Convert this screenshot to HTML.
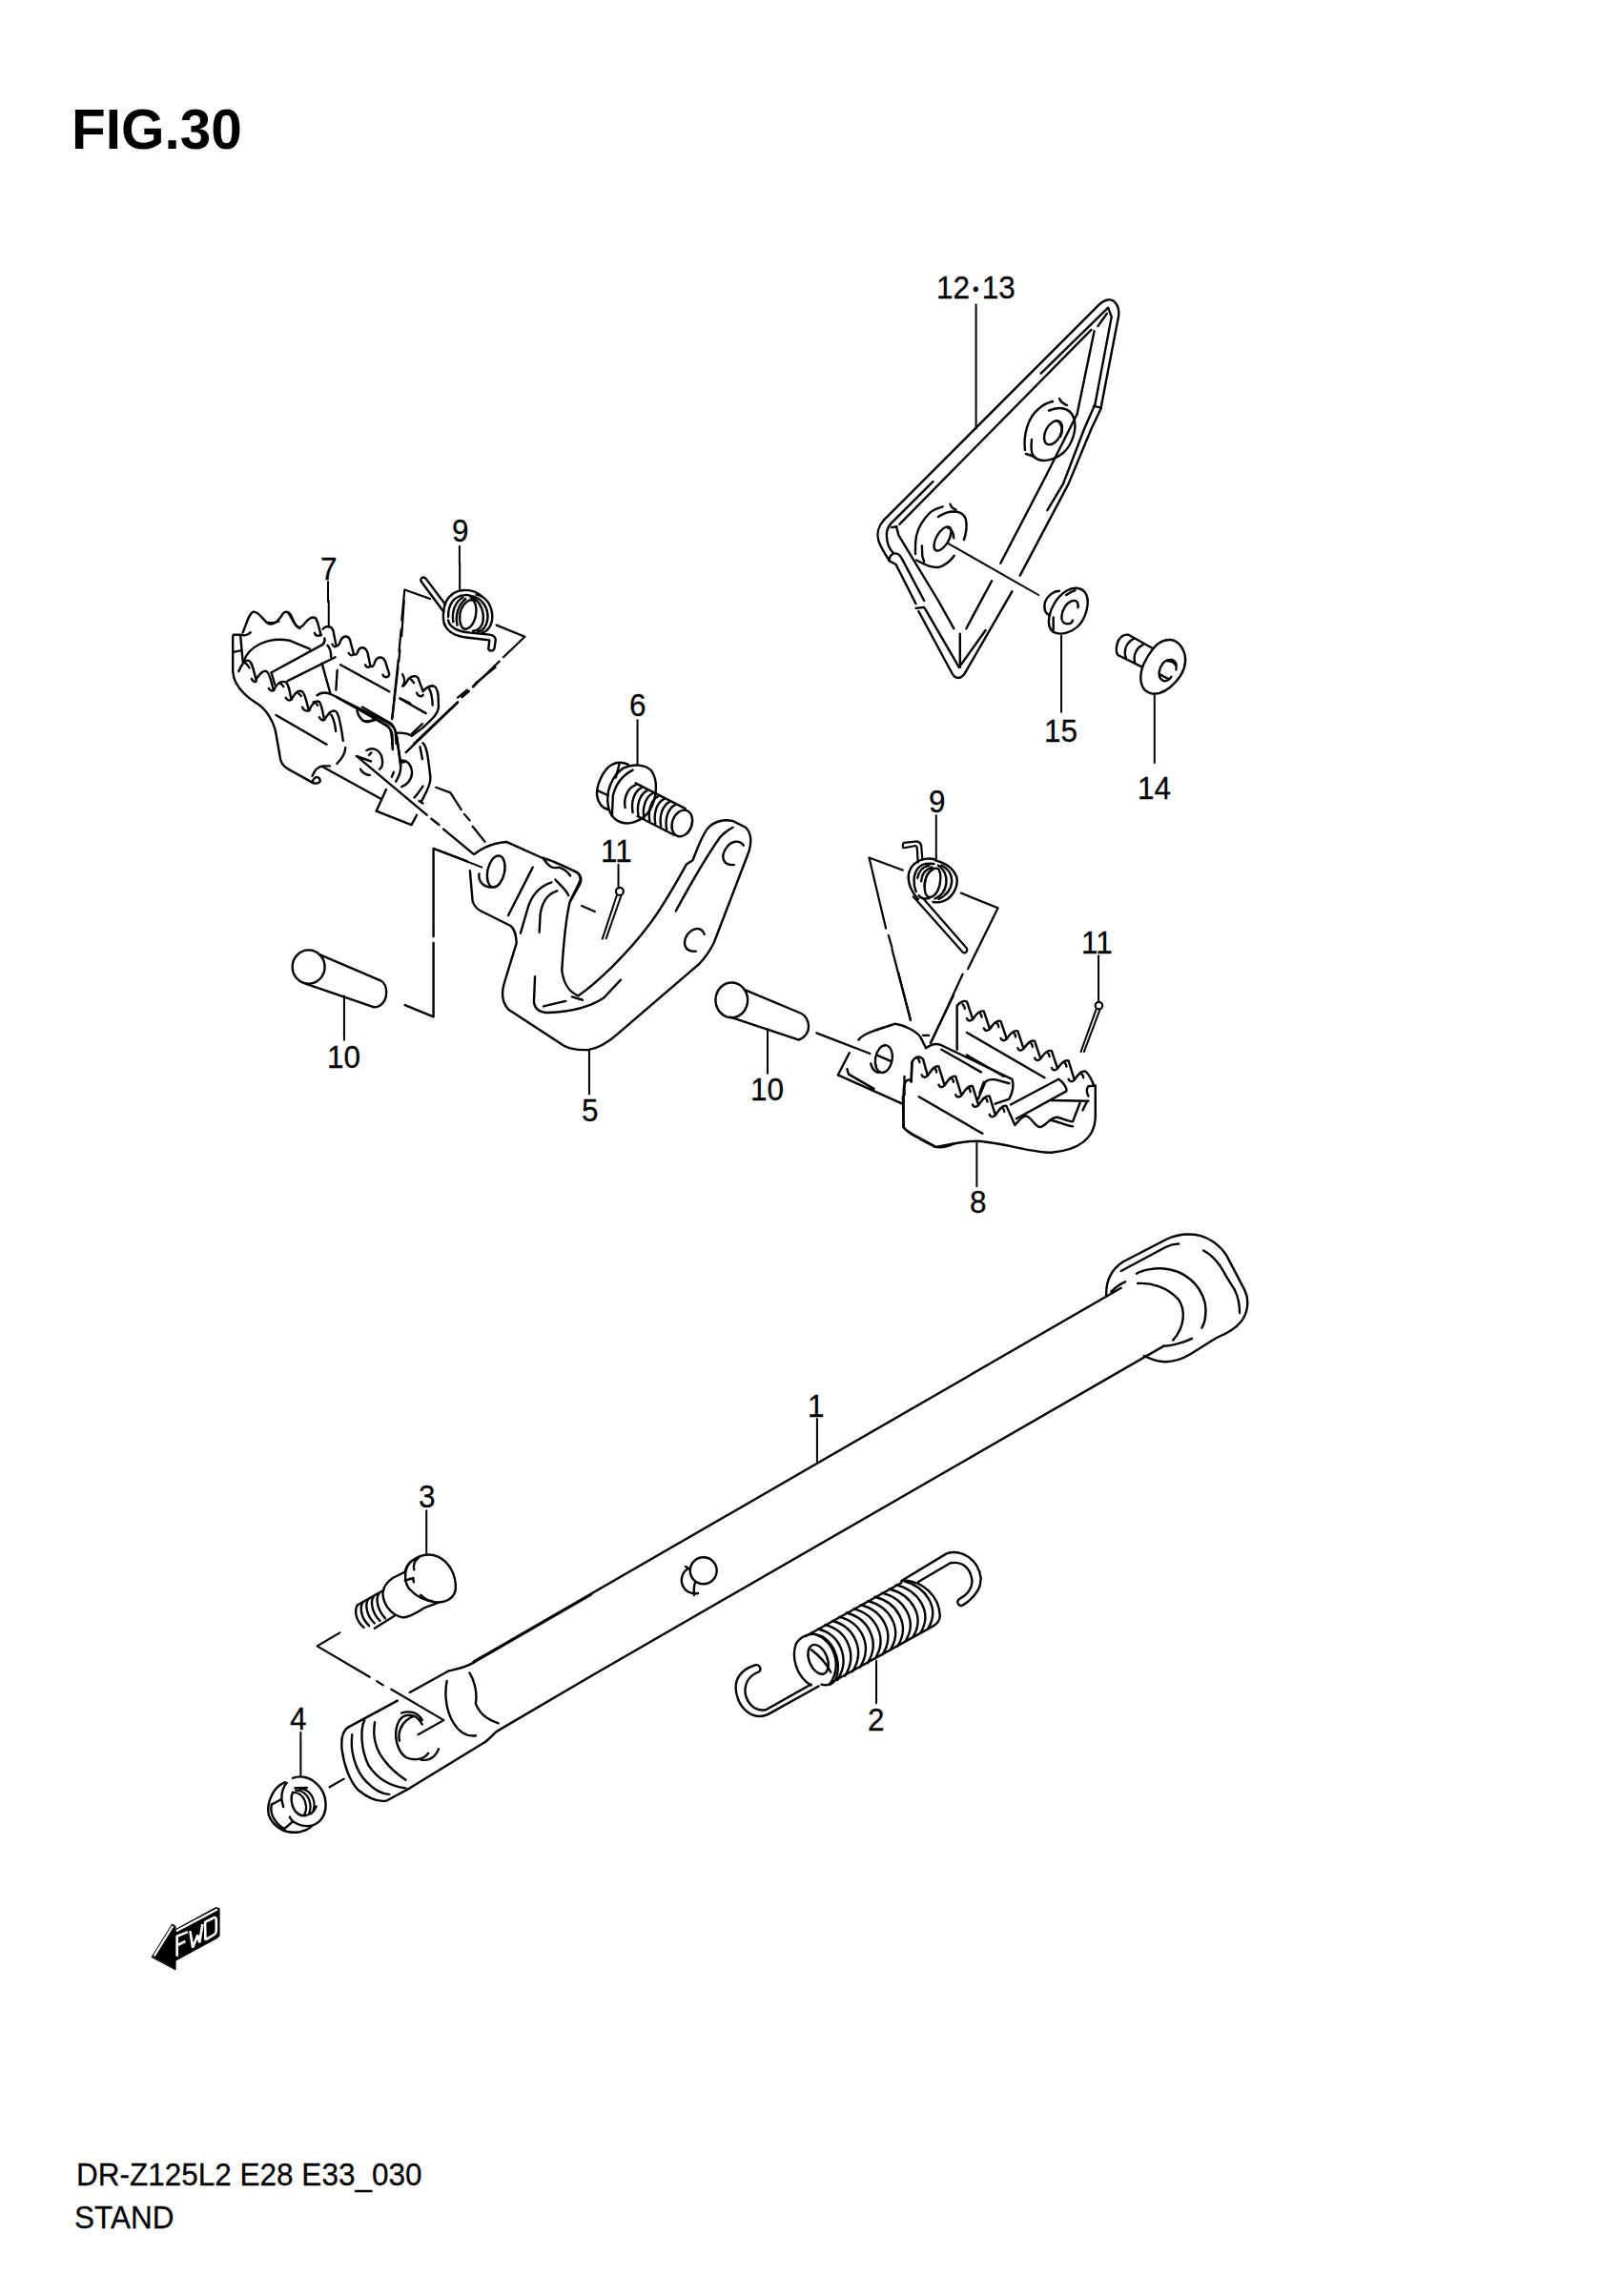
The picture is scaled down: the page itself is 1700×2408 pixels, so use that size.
<!DOCTYPE html>
<html><head><meta charset="utf-8">
<style>
html,body{margin:0;padding:0;background:#fff;}
body{width:1700px;height:2408px;position:relative;overflow:hidden;font-family:"Liberation Sans",sans-serif;color:#000;}
.t{position:absolute;white-space:nowrap;line-height:1;font-size:31.5px;transform:scaleY(1.07);transform-origin:0 0;-webkit-text-stroke:0.25px #000;}
svg{position:absolute;left:0;top:0;}
svg *{vector-effect:non-scaling-stroke;}
</style></head><body>
<div class="t" style="left:75px;top:107px;font-size:58.5px;font-weight:bold;transform:none;-webkit-text-stroke:0;">FIG.30</div>
<div class="t" style="left:80px;top:2264px;">DR-Z125L2 E28 E33_030</div>
<div class="t" style="left:78px;top:2309px;">STAND</div>
<div class="t" style="left:982px;top:285px;">12<span style="font-size:19px;vertical-align:3px;margin:0 3px">•</span>13</div>
<div class="t" style="left:1095px;top:750px;">15</div>
<div class="t" style="left:1193px;top:810px;">14</div>
<div class="t" style="left:474px;top:540px;">9</div>
<div class="t" style="left:336px;top:580px;">7</div>
<div class="t" style="left:660px;top:723px;">6</div>
<div class="t" style="left:630px;top:876px;">11</div>
<div class="t" style="left:610px;top:1148px;">5</div>
<div class="t" style="left:343px;top:1092px;">10</div>
<div class="t" style="left:974px;top:824px;">9</div>
<div class="t" style="left:1134px;top:972px;">11</div>
<div class="t" style="left:787px;top:1126px;">10</div>
<div class="t" style="left:1017px;top:1244px;">8</div>
<div class="t" style="left:847px;top:1458px;">1</div>
<div class="t" style="left:304px;top:1786px;">4</div>
<div class="t" style="left:439px;top:1553px;">3</div>
<div class="t" style="left:910px;top:1787px;">2</div>
<svg width="1700" height="2408" viewBox="0 0 1700 2408" fill="none" stroke="#000" stroke-width="2.4" stroke-linecap="round" stroke-linejoin="round">
<!-- b3.txt -->
<g transform="translate(360.0 1560.0) scale(0.086366)">
<path d="M1010,280 L1010,820" stroke-width="2"/>
<path d="M880,860 C950,815 1060,800 1150,840 C1280,900 1370,1050 1365,1230 C1350,1340 1260,1400 1130,1395 C1000,1380 880,1320 800,1230 C740,1150 740,1020 790,940 C810,910 840,880 880,860"/>
<path d="M750,1020 C780,920 830,880 920,850 M750,1130 L850,1100 L855,1150 M860,1000 C850,950 860,900 900,870 M940,1305 C970,1330 1000,1370 1080,1380"/>
<path d="M740,1030 L600,1100 C540,1140 490,1200 480,1280 C480,1400 560,1540 720,1580 C800,1580 900,1520 990,1460 L1150,1400"/>
<path d="M470,1260 L170,1430 M620,1560 L380,1710"/>
<path d="M175,1425 C130,1490 150,1620 250,1700 M240,1390 C195,1455 215,1590 315,1680 M305,1355 C260,1420 280,1555 380,1650 M370,1320 C325,1385 345,1520 445,1620 M435,1285 C390,1350 410,1485 510,1590"/>

</g>
<!-- b5.txt -->
<g transform="translate(460.0 880.0) scale(0.197409)">
<path d="M190,80 C240,40 300,20 360,15 L550,100 M550,100 C600,110 680,150 740,180 C760,200 760,220 750,240 L700,330"/>
<ellipse cx="305" cy="172" rx="45" ry="85" transform="rotate(12 305 172)"/>
<path d="M215,185 C210,225 240,262 290,255"/>
<path d="M0,60 L230,150" stroke-width="2"/>
<path d="M600,230 C540,250 490,300 470,380 L435,500 M630,275 C580,290 550,330 540,400 L535,495"/>
<path d="M500,150 L370,405"/>
<path d="M555,100 C580,140 600,160 640,150 C670,160 690,180 700,195 M620,215 C650,250 680,270 690,300"/>

<path d="M870,530 L948,295 M890,528 L970,300" stroke-width="2"/><circle cx="962" cy="278" r="20" stroke-width="2.2"/>
<path d="M955,135 L955,252" stroke-width="2"/>
<path d="M760,355 L830,385" stroke-width="2.2"/>
<path d="M800,1125 L800,1355" stroke-width="2"/>

</g>
<!-- b5full.txt -->
<g transform="translate(460.0 820.0) scale(0.222085)">
<path d="M148,420 L160,560 C165,585 180,600 200,610 L340,680 C360,695 365,720 368,760 L310,950 C298,990 298,1040 330,1075 L590,1245 C620,1262 660,1268 710,1265 C760,1255 800,1230 840,1195 L1230,860 C1260,830 1280,800 1300,760 L1465,330 C1480,280 1475,240 1450,215 L1390,185 C1350,175 1300,185 1270,220 C1240,260 1220,320 1200,370 L1170,390 C1120,480 1060,590 990,680 C900,800 760,940 660,1010 C610,990 590,950 582,890 C590,760 600,650 620,565 C640,520 660,490 670,460 C668,440 660,430 640,420"/>
<path d="M1120,610 C1180,500 1280,330 1330,260 C1350,240 1370,225 1390,215"/>
<path d="M1440,300 C1420,270 1380,280 1360,310 C1330,350 1340,395 1395,392 M1255,720 C1240,680 1200,690 1175,720 C1150,760 1160,805 1215,800"/>
<path d="M455,920 L450,1040 C455,1075 480,1090 520,1090 C640,1085 720,1060 780,1020 L860,935 M495,1060 L600,1035 M630,1015 L680,1030"/>

</g>
<!-- b6.txt -->
<g transform="translate(480.0 700.0) scale(0.197409)">
<path d="M955,280 L955,515" stroke-width="2"/>
<path d="M800,755 C770,750 745,720 740,680 C735,640 760,570 800,530 C830,505 870,500 905,515"/>
<path d="M745,655 L800,680 M860,508 L840,585"/>
<path d="M880,535 C930,510 1000,515 1030,550 C1065,600 1060,690 1020,760 C980,820 900,845 850,815 C800,785 790,720 800,660 C810,610 840,560 880,535"/>
<path d="M930,545 C880,570 840,620 825,680 L820,790"/>
<path d="M945,615 L1210,750 M955,790 L1150,890"/>
<ellipse cx="1192" cy="828" rx="52" ry="72" transform="rotate(20 1192 828)"/>
<path d="M945,625 C900,640 880,700 890,745 M975,640 C935,660 920,720 930,770 M1005,655 C965,675 950,735 960,785 M1035,670 C995,690 980,750 990,800 M1065,685 C1025,705 1010,765 1020,815 M1095,700 C1055,720 1040,780 1050,830 M1125,715 C1085,735 1070,795 1080,845 M1155,730 C1115,750 1100,810 1110,860"/>
<path d="M0,160 L50,120 M100,80 L200,0" stroke-width="2.2"/>




</g>
<!-- f7a.txt -->
<g transform="translate(230.0 630.0) scale(0.123381)">
<path d="M200,270 C230,200 250,110 290,95 C330,88 370,160 410,190 C450,215 500,180 540,110 C570,78 605,100 625,160 C650,230 685,245 720,200 C745,165 790,125 820,150 C840,180 850,250 865,295"/>
<path d="M810,275 C820,305 850,305 862,285 M190,290 C210,300 250,290 265,270 M420,185 C450,195 480,185 505,175 M590,110 C620,150 640,220 685,235"/>
<path d="M880,240 C905,215 950,205 968,255 L990,365 C998,392 1018,385 1030,340 C1050,300 1090,288 1110,330 L1140,445 C1150,470 1172,462 1182,420 C1200,390 1240,388 1260,440 L1282,545 C1292,572 1312,562 1322,520 C1342,470 1392,468 1412,520 L1445,625"/>
<path d="M960,370 C970,395 990,395 995,385 M1100,445 C1110,470 1130,470 1140,455 M1240,545 C1250,570 1275,570 1282,555 M1390,630 C1400,655 1425,655 1440,640 M920,380 C940,400 950,440 950,480"/>
<path d="M120,290 L180,290 M115,300 L115,600 C120,700 200,800 330,880 C400,930 460,1020 480,1120 L520,1350 C530,1400 560,1420 600,1440 L790,1545"/>
<path d="M790,1545 C800,1500 830,1490 850,1510 C870,1540 840,1560 800,1550 M790,1490 C810,1440 840,1410 880,1405 L940,1405"/>
<path d="M130,435 L180,425 M180,300 L200,520"/>
<path d="M165,600 C190,540 220,500 250,510 C280,520 292,600 312,668 C335,640 362,590 400,600 C430,610 442,700 462,762 C490,700 520,680 560,690 C590,700 600,780 612,842 C640,790 662,760 700,770 C730,780 742,870 762,935 C782,880 820,840 850,860 C870,880 882,960 892,1012 C922,970 950,920 990,940 C1020,960 1040,1100 1052,1190"/>
<path d="M275,665 C285,690 310,695 315,680 M420,745 C430,770 455,770 465,760 M565,825 C575,850 600,850 612,840 M705,905 C715,935 745,940 765,932 M850,990 C860,1015 885,1020 895,1010 M950,970 C970,1000 985,1060 990,1110 M220,530 C240,540 250,560 255,570 M510,700 C530,705 540,720 545,730 M660,780 C680,790 690,800 695,810 M800,860 C820,865 830,880 835,890"/>
<path d="M440,612 L880,372 C895,355 900,340 895,320 M580,682 L985,480 M445,620 L472,712"/>
<path d="M205,525 C240,390 420,300 600,340 L770,410"/>
<path d="M872,532 L942,782 M1002,592 L992,758"/>
<path d="M1030,545 L1445,772 M482,972 L912,1222 M1540,832 L1621,872"/>
<path d="M830,805 C870,770 920,780 960,800 L1440,1040 C1480,1060 1500,1100 1510,1160 L1540,1400"/>
<path d="M1000,822 L1430,1062 C1460,1080 1470,1150 1475,1260"/>
<path d="M1170,935 C1185,990 1210,1020 1250,1030 C1280,1030 1300,1020 1310,1010"/>
<path d="M1000,1385 C1040,1345 1070,1300 1072,1250 M1252,1272 C1300,1242 1362,1262 1382,1332 C1392,1382 1382,1420 1362,1432 M1272,1312 L1292,1292 M1200,1432 C1212,1462 1250,1482 1280,1482"/>


<path d="M930,0 L930,225" stroke-width="2"/>
<path d="M1570,0 L1550,300 M1535,420 L1525,520 M1520,560 L1470,1000" stroke-width="2.2"/>

</g>
<!-- f7b.txt -->
<g transform="translate(380.0 660.0) scale(0.074028)">
<path d="M570,640 C600,690 605,760 570,805 C600,815 625,740 660,695 C700,660 760,650 790,690 L860,880 C880,850 930,810 990,800 C1040,800 1070,870 1075,950 L1080,1110 C1070,1200 1000,1260 850,1400 L700,1510 C650,1480 600,1460 480,1470"/>
<path d="M770,900 C790,950 840,965 860,930 M940,830 C970,870 990,950 995,1075 M680,700 C700,720 720,740 730,760"/>
<path d="M530,980 L900,1190"/>
<path d="M550,0 L520,310 M510,430 L420,1270" stroke-width="2.2"/>
<path d="M0,1100 L400,1330 C440,1360 460,1400 470,1460 L480,1621 M0,1160 L350,1370 C390,1400 420,1450 425,1500 L420,1621"/>
<path d="M0,1290 C60,1320 120,1290 170,1290 M700,1480 L850,1340"/>
<path d="M730,1621 L1350,1030 M1410,960 L1500,880 M1570,810 L1621,750" stroke-width="2.4"/>

</g>
<!-- f7c.txt -->
<g transform="translate(400.0 720.0) scale(0.098705)">
<path d="M260,700 L810,170 M860,110 L930,50" stroke-width="2.4"/>
<path d="M160,520 L200,780 M110,520 L120,670"/>
<path d="M200,790 C260,770 320,820 325,920 C320,1000 260,1050 215,1065 M200,810 L250,800 M155,1010 C190,950 210,880 205,830"/>
<path d="M440,600 C490,640 500,800 520,960 C530,1050 460,1150 420,1230 M400,1215 L440,1240 M410,640 L435,770"/>
<path d="M350,1180 C380,1150 420,1090 440,1060"/>




<path d="M110,960 L130,910"/>

</g>
<!-- f8.txt -->
<g transform="translate(940.0 1040.0) scale(0.148057)">
<path d="M430,410 L430,100 C450,75 480,58 500,72 L542,195 C520,215 505,205 500,190 M542,195 C565,160 590,128 620,140 L662,265 C640,285 625,275 620,260 M662,265 C685,230 710,198 740,210 L782,335 C760,355 745,345 740,330 M782,335 C805,300 830,268 860,280 L902,405 C880,425 865,415 860,400 M902,405 C925,370 950,338 980,350 L1022,475 C1000,495 985,485 980,470 M1022,475 C1045,440 1070,408 1100,420 L1142,545 C1120,565 1105,555 1100,540 M1142,545 C1165,510 1190,478 1220,490 L1262,625 C1240,645 1225,635 1220,620 M1262,625 C1285,590 1310,555 1340,565 C1370,590 1390,640 1400,665"/>
<path d="M470,90 C480,100 485,110 485,120 M590,150 C600,160 605,170 605,180 M710,220 C720,230 725,240 725,250 M830,290 C840,300 845,310 845,320 M950,360 C960,370 965,380 965,390 M1070,430 C1080,440 1085,450 1085,460 M1190,500 C1200,510 1205,520 1205,530 M1310,580 C1320,590 1325,600 1325,610"/>
<path d="M105,640 L110,500 C130,462 165,448 190,480 L222,595 C200,615 185,605 180,590 M222,595 C245,560 270,520 300,530 L342,665 C320,685 305,675 300,660 M342,665 C365,630 390,590 420,600 L462,735 C440,755 425,745 420,730 M462,735 C485,700 510,660 540,670 L582,805 C560,825 545,815 540,800 M582,805 C605,770 630,730 660,740 L702,875 C680,895 665,885 660,870 M702,875 C725,840 750,800 780,810 L840,945 C865,920 890,880 920,880 C960,890 980,960 1020,960 C1060,950 1090,890 1140,890 C1180,900 1220,920 1250,920 L1300,790"/>
<path d="M150,470 C160,480 165,490 165,500 M270,540 C280,550 285,560 285,570 M390,610 C400,620 405,630 405,640 M510,680 C520,690 525,700 525,710 M630,750 C640,760 645,770 645,780 M750,820 C760,830 765,840 765,850 M1090,910 C1150,920 1200,950 1250,955"/>
<path d="M105,630 C70,610 55,650 52,700 L50,960 C70,990 100,1000 280,1100 C400,1080 500,1050 600,1060 C800,1080 950,1140 1100,1140 C1300,1120 1400,1040 1410,900 L1410,665 L1360,670 C1345,690 1350,720 1360,740"/>
<path d="M0,230 C60,240 140,280 170,320 L210,400 C250,370 290,365 320,380 L820,620 C830,650 830,700 800,760 L700,795 M190,310 L230,310"/>
<path d="M500,450 L760,600 M320,410 L600,570"/>
<path d="M580,760 L630,640 C650,620 680,620 710,625 L800,650 M590,720 L620,640"/>
<path d="M810,800 L1150,620 C1180,640 1210,680 1205,705 L850,900 M1100,770 L1360,775 M1320,840 L1350,780"/>
<path d="M500,290 L1050,610 M160,745 L610,1005"/>
<path d="M570,1070 L570,1380" stroke-width="2"/>

</g>
<!-- n4.txt -->
<g transform="translate(270.0 1850.0) scale(0.061690)">
<path d="M470,310 C380,350 290,420 240,540 C190,640 170,760 190,860 C220,960 290,1050 420,1120 C500,1160 600,1170 700,1160 C800,1140 880,1100 920,1060"/>
<path d="M240,690 C220,780 240,880 300,960 C350,1030 400,1080 460,1100"/>
<path d="M600,240 C700,200 850,210 950,290 C1080,380 1160,530 1160,700 C1160,860 1080,990 950,1040 C850,1070 720,1050 620,990 C580,960 560,930 550,900"/>
<path d="M500,320 C440,380 410,480 410,600 L440,730 M240,690 L410,600 M460,1100 L600,980"/>
<path d="M640,410 L840,405 M600,480 C560,560 570,700 640,800 C700,870 780,890 840,870"/>
<path d="M600,490 C690,470 780,540 810,640 C840,740 820,830 790,870 M650,450 C750,440 840,510 880,610 C910,700 900,800 870,860 M720,420 C830,420 920,500 950,600 C975,680 965,760 940,820 M1000,720 C980,780 950,820 900,850" stroke-width="2.2"/>

</g>
<!-- p10a.txt -->
<g transform="translate(270.0 860.0) scale(0.135719)">
<ellipse cx="395" cy="1135" rx="125" ry="130"/>
<path d="M480,1040 L950,1240 C1010,1270 1015,1390 945,1435 C920,1450 900,1450 880,1440 L370,1265"/>
<path d="M670,1360 L670,1700" stroke-width="2"/>
<path d="M1140,1430 L1360,1520 L1360,950 M1360,900 L1360,790 M1360,780 L1360,220 L1621,320" stroke-width="2.4"/>

</g>
<!-- p10b.txt -->
<g transform="translate(740.0 1020.0) scale(0.160395)">
<ellipse cx="170" cy="180" rx="105" ry="115"/>
<path d="M260,115 L620,265 C680,290 705,400 610,440 L160,290"/>
<path d="M405,370 L405,660" stroke-width="2"/>
<path d="M725,395 L1075,530" stroke-width="2.2"/>
<path d="M1000,440 C1030,400 1100,380 1240,335"/>
<path d="M940,525 L865,670 L1290,860 M925,630 L935,665 L1100,760"/>
<ellipse cx="1165" cy="565" rx="55" ry="90" transform="rotate(10 1165 565)"/>
<path d="M1120,540 L1215,580 M1080,595 C1090,640 1120,660 1140,650"/>
<path d="M1290,810 L1295,1010 C1310,1040 1350,1060 1500,1140 C1550,1150 1600,1130 1621,1120"/>
<path d="M1300,680 L1300,800 M1350,590 L1345,710" />
<path d="M1260,0 L1340,310 M1621,150 L1470,460" stroke-width="2.2"/>

</g>
<!-- p12.txt -->
<g transform="translate(0.0 0.0) scale(1.000000)">
<path d="M926.7,545.7 L1151.8,320.4 C1158,314 1166,312 1170,318 C1174,323 1174,330 1172,337 L1154.6,427.7"/>
<path d="M1091.6,391.6 L1162.2,322.7 L1165.7,332.4 L1148.1,425.8"/>
<path d="M1144.4,345.8 L943.3,549.9"/>
<path d="M1151.3,342.1 L1161,328.7"/>
<path d="M1147.6,347.2 L1129.6,434.2"/>
<path d="M1147.2,425.8 L1154.6,427.7"/>
<path d="M1147.2,426.8 L1137,450 L1115,507.4 L1098.4,535.2"/>
<path d="M1154.6,428.6 L1144.4,450 L1120.6,507.4 L1069.7,603.6"/>
<path d="M1061.4,620.3 L1013.3,703.6 C1011,708 1009,711 1005,711 C1002,711 1000,709 998.4,706 L963.3,641"/>
<path d="M926.7,545.7 C921,552 919.5,560 921.1,566 C922,571 925,576 932.2,587.3"/>
<path d="M932.2,587.3 C933,584 935,581 938,580.4 C941,580 944,582 946.1,586.4 L969.2,630"/>
<path d="M932.2,587.8 C935,590 938,591 939.6,592 L960.5,633.2"/>
<path d="M960.5,637.9 L968.8,637"/>
<path d="M978.5,505 L934.5,548.9 C931,553 929.5,557 929.9,562 C930,570 933,576 936.8,580"/>
<path d="M935,553.1 L940.5,552.2 M940.5,554 L942.4,561.4 L984,630 L1000.3,659.2"/>
<path d="M969.8,637.9 L1005.8,699.9 L1033.6,661"/>
<path d="M1006.8,664.7 L1006.8,699.9"/>
<path d="M1129.6,434.2 L1096.5,500 L1049.3,590.7 M1040.1,609.2 L1013.3,659.2"/>
<!-- upper washer -->
<path d="M1100,430.7 C1110,426 1122,427 1126,438 C1130,449 1125,466 1115,475 C1105,483 1092,486 1084,479 C1082,476 1081,469 1082,461"/>
<path d="M1075,472 C1073,456 1078,438 1089,429 C1093,425 1100,422 1104,421"/>
<path d="M1111,418 C1113,423 1117,424 1119,425"/>
<path d="M1076,476 L1085,479"/>
<ellipse cx="1104.5" cy="453.8" rx="8" ry="13.5" transform="rotate(28 1104.5 453.8)"/>
<path d="M1108,441 C1114,444 1115,452 1112,458"/>
<!-- lower washer -->
<path d="M984,542 C990,538 998,535 1006,537.4 C1010,539 1013,542 1013.4,548 C1014,554 1013,560 1010.9,566"/>
<path d="M1000.7,582.7 C997,588 993,592 985,594.8 C978,596 972,593 966,590 L961,587.5"/>
<path d="M988.7,531.4 C983,533 978,535 975,538 C968,545 963,553 961,562 C959.5,570 960,576 960,580.9"/>
<path d="M996.5,528.6 C997,531 998,533 1002.5,534.6"/>
<path d="M966.9,572.5 L967.2,583 L969.2,589.2"/>
<ellipse cx="988.5" cy="565" rx="6.5" ry="14" transform="rotate(30 988.5 565)"/>
<path d="M993.3,553.1 C997,554 999.8,556.8 1000.2,564.2"/>
<path d="M994.2,569.8 L1089.1,624" stroke-width="2"/>
<!-- leader 12-13 -->
<path d="M1023.6,319.5 L1023.6,449.5" stroke-width="2"/>

</g>
<!-- p14.txt -->
<g transform="translate(1080.0 600.0) scale(0.123381)">
<path d="M200,510 C260,540 350,520 420,450 C480,380 510,260 480,190 C450,130 380,120 310,160 C230,210 180,300 165,380 C155,440 170,490 200,510 Z"/>
<path d="M310,195 C330,180 355,165 385,155"/>
<path d="M200,385 L200,490"/>
<path d="M250,160 C210,160 150,195 128,260 C118,310 130,350 165,368"/>
<path d="M410,300 C415,250 390,235 360,245 C310,260 275,320 270,380 C268,420 290,440 320,440 C345,440 360,425 365,410"/>
<path d="M268,540 L268,1190" stroke-width="2"/>






<path d="M1060,1040 L1060,1621" stroke-width="2"/>

</g>
<!-- p14b.txt -->
<g transform="translate(1160.0 650.0) scale(0.061690)">
<path d="M800,490 C870,400 980,340 1080,340 C1200,340 1300,440 1340,600 C1370,760 1300,930 1180,1060 C1060,1190 920,1260 820,1260 C700,1250 610,1180 590,1030 C580,920 610,820 640,750 C700,620 760,540 800,490 Z"/>
<path d="M380,255 L800,490 M200,600 L615,805 M380,255 C300,240 220,300 190,400 C170,480 170,560 200,600"/>
<path d="M470,320 C380,370 320,460 320,560 C320,600 330,630 340,650 M630,420 C540,470 480,560 480,660 C480,690 485,710 490,730"/>
<path d="M1190,850 C1200,780 1190,700 1120,680 C1030,670 960,720 920,820 C880,920 900,1010 980,1040 C1030,1050 1080,1010 1110,970 M1050,700 C1100,700 1170,730 1190,790 M920,930 C960,950 1010,990 1050,1000"/>

</g>
<!-- s2.txt -->
<g transform="translate(740.0 1580.0) scale(0.197409)">
<path d="M907,820 L907,1045" stroke-width="2"/>
<path d="M560,672 C680,702 730,835 660,945 M598,651 C718,681 770,812 700,922 M635,629 C755,659 810,790 740,900 M673,608 C793,638 850,767 780,877 M711,587 C831,617 890,744 820,854 M748,565 C868,595 930,722 860,832 M786,544 C906,574 970,699 900,809 M824,523 C944,553 1010,676 940,786 M862,502 C982,532 1050,653 980,763 M899,480 C1019,510 1090,631 1020,741 M937,459 C1057,489 1130,608 1060,718 M975,438 C1095,468 1170,585 1100,695 M1012,416 C1132,446 1210,563 1140,673 M1050,395 C1170,425 1250,540 1180,650"/>
<path d="M530,690 L1040,405 M1060,392 C1150,400 1240,470 1245,580 C1245,610 1230,625 1200,640 L660,940"/>
<path d="M560,950 C480,900 455,800 480,730 C510,680 570,665 620,690 C700,740 720,850 690,920 C670,950 640,952 615,945"/>
<ellipse cx="598" cy="812" rx="48" ry="82" transform="rotate(-22 598 812)"/>
<path d="M560,760 C600,790 640,830 665,880"/>
<path d="M1040,395 L1280,250 C1350,225 1450,275 1462,380 C1465,450 1405,500 1365,525 C1340,535 1330,500 1350,490 C1390,470 1420,430 1415,390 C1405,320 1360,290 1300,300 L1130,400"/>
<path d="M600,955 L330,1105 C260,1135 170,1085 160,965 C158,895 215,855 265,842 C290,838 300,870 280,880 C240,895 210,930 210,980 C212,1040 260,1090 320,1080 L560,945"/>

</g>
<!-- s9a.txt -->
<g transform="translate(420.0 590.0) scale(0.086366)">
<path d="M540,760 C510,700 512,560 555,470 C605,378 680,338 770,335 C880,330 960,380 1000,420"/>
<path d="M580,660 C575,500 660,400 780,395 C850,390 890,420 910,460"/>
<path d="M920,390 C1040,410 1110,520 1115,650 C1115,760 1060,840 990,850"/>
<path d="M880,410 C990,440 1060,540 1060,660 C1055,770 1000,830 940,840"/>
<path d="M850,420 C950,450 1010,560 1005,680 C1000,780 940,830 880,830"/>
<path d="M890,470 C930,520 930,640 890,720 C850,800 790,820 760,800 C720,760 700,650 740,560 C780,480 840,440 880,460"/>
<path d="M640,720 C620,600 660,480 760,420 M690,760 C660,640 700,520 790,440"/>
<path d="M530,740 C570,850 690,900 820,912 L1080,942 L1068,1048 C1078,1080 1130,1080 1140,1042 L1155,942 C1155,902 1120,880 1080,875 L850,852 C720,840 600,800 580,700"/>
<path d="M525,600 L255,235 C235,205 255,175 285,180 C300,185 310,195 320,210 L545,510"/>
<path d="M720,0 L720,340" stroke-width="2"/>
<path d="M50,330 L360,440 M50,330 L15,700" stroke-width="2.2"/>
<path d="M1165,760 L1510,900 L1250,1150 M1200,1200 L880,1510" stroke-width="2.2"/>

</g>
<!-- s9b.txt -->
<g transform="translate(880.0 820.0) scale(0.185071)">
<path d="M550,190 L550,440" stroke-width="2"/>







<path d="M420,650 L700,965 C715,975 732,960 722,942 L480,665" stroke-width="2.2"/>
<path d="M170,430 L360,500 M170,430 L265,830 M280,870 L300,940 M300,950 L405,1350" stroke-width="2.2"/>
<path d="M690,630 L900,715 L730,1060 M700,1090 L520,1480" stroke-width="2.2"/>
<path d="M1470,985 L1470,1240" stroke-width="2"/>
<path d="M1370,1530 L1458,1285 M1388,1530 L1478,1290" stroke-width="2"/><circle cx="1472" cy="1268" r="20" stroke-width="2.2"/>

</g>
<!-- s9c.txt -->
<g transform="translate(940.0 870.0) scale(0.049352)">
<path d="M470,1480 C330,1350 240,1150 260,960 C290,770 440,640 650,620 C750,610 830,640 850,660"/>
<path d="M420,1320 C350,1150 360,950 460,820 C550,720 680,710 800,730"/>
<path d="M850,660 C1000,700 1200,800 1280,1000 C1320,1150 1250,1350 1100,1470 C1000,1540 880,1560 780,1540"/>
<path d="M960,760 C1100,830 1180,950 1180,1100 C1170,1270 1060,1400 900,1480"/>
<path d="M890,760 C1020,850 1080,990 1060,1150 C1040,1300 960,1410 820,1470"/>
<path d="M900,850 C960,950 950,1150 880,1300 C820,1420 720,1460 660,1420 C590,1350 580,1150 640,1000 C700,870 800,800 880,830"/>
<path d="M450,1030 C470,900 560,790 700,760 M530,1100 C540,950 620,840 760,800 M600,1200 C600,1030 660,900 800,830"/>
<path d="M460,700 L440,380 C430,350 400,340 380,350 L160,390 C130,390 130,300 160,280 L440,250 C490,260 520,300 530,340 L555,640" stroke-width="2.2"/>
<path d="M480,1400 C520,1460 600,1480 700,1460"/>

</g>
<!-- st1a.txt -->
<g transform="translate(1060.0 1270.0) scale(0.172733)">

<path d="M580,520 C575,420 620,350 680,310 L940,175 C1000,145 1080,135 1150,150 C1220,170 1280,220 1310,270 L1420,480 C1450,540 1440,620 1400,670 C1360,720 1300,750 1250,770 L1090,870 C1040,900 980,920 920,915 C870,910 830,890 810,880"/>
<path d="M670,365 L940,220 C970,205 1000,200 1020,200 M1170,240 C1230,270 1280,340 1310,400 L1360,480 C1380,520 1390,570 1390,620"/>
<path d="M765,380 C800,360 870,345 930,350 C1050,360 1150,440 1180,560 C1190,620 1180,680 1160,710"/>
<path d="M770,440 C850,435 950,460 1020,540 C1060,600 1060,700 985,785"/>
<path d="M930,820 C970,820 1050,800 1100,775 M610,490 C640,460 670,440 695,430"/>

</g>
<!-- st1b.txt -->
<g transform="translate(0.0 0.0) scale(1.000000)">
<path d="M1175.7,1350.8 L496.7,1742.6 M1220.6,1411.6 L620,1757.7"/>
<path d="M856.9,1488 L856.9,1534.6" stroke-width="2"/>
<circle cx="737.7" cy="1647.3" r="14"/>
<path d="M722,1645 C716,1648 713,1656 716,1663 C719,1670 726,1672 732,1671 M719,1643 L724,1646 M729,1660 C727,1665 728,1670 728,1673"/>

</g>
<!-- st1c.txt -->
<g transform="translate(270.0 1640.0) scale(0.215916)">
<path d="M1621,150 L1050,480 C1000,510 950,515 930,520 L740,625"/>
<path d="M680,665 L440,795 C415,810 405,840 410,900 C420,980 450,1060 490,1100 C540,1140 590,1160 630,1150 L740,1090 L1100,870 C1130,850 1150,820 1170,810 L1621,545"/>
<path d="M460,830 C450,900 470,1000 530,1060 C570,1100 610,1120 640,1120 M520,760 C500,800 500,900 540,980 C580,1040 640,1080 720,1090 M570,770 C560,830 570,900 620,960 C650,1000 690,1030 720,1050"/>

<path d="M920,570 C910,620 910,700 950,770 C980,820 1020,840 1060,835 M1030,530 C1050,560 1070,620 1060,680 C1080,730 1120,760 1170,775"/>
<path d="M400,335 L290,400 L545,550 M580,570 L610,590 M650,610 L905,760 L780,830" stroke-width="2.2"/>
<path d="M350,1085 L420,1045" stroke-width="2.2"/>
<path d="M210,820 L210,1030" stroke-width="2"/>





<path d="M800,780 C770,720 700,720 680,780 C660,840 680,910 720,940 C760,960 810,950 830,920 M690,860 C680,820 700,760 760,740 M880,900 C860,950 820,960 790,950 M700,725 C740,712 780,722 800,760"/>

</g>
<!-- zfwd.txt -->
<g transform="translate(150.0 1990.0) scale(0.061690)">
<path d="M150,1010 L495,455 L550,485 L552,545 L1240,170 L1298,190 L1298,650 L1270,685 L552,1075 L552,1225 Z" fill="#000" stroke="#000" stroke-width="1"/>
<path d="M190,995 L505,488 M565,570 L1262,202" stroke="#fff" stroke-width="2.2" stroke-linecap="butt"/>
<path d="M578,1000 L578,660 L760,585 M585,810 L720,745 M800,570 L845,850 L930,640 L960,770 L1010,455 M1060,720 L1055,420 L1200,345 C1240,330 1245,360 1245,400 L1245,560 C1245,600 1230,620 1200,640 Z" stroke="#fff" stroke-width="2.6" stroke-linecap="butt" stroke-linejoin="bevel"/>

</g>
<!-- zmisc.txt -->
<g transform="translate(0.0 0.0) scale(1.000000)">
<path d="M338.5,804.2 L399.4,837.8 M405,828 L394.6,850.7 L431.5,865.1 L437.1,854.7"/>
<path d="M373.8,792.9 L447.6,854.7 M373.8,792.9 L389,798.5" stroke-width="2.4"/>
<path d="M452.4,858.7 L460.4,865 M465.1,869.6 L496.5,895.6" stroke-width="2.4"/>
<path d="M457.2,825.8 L472.4,831.4 L483.7,849.1 M486.9,853.9 L492.5,860.3 M495.7,866.7 L508.5,882.8" stroke-width="2.2"/>
<path d="M344,610 L344,631 M481.9,573 L481.9,591" stroke-width="2"/>

</g>
</svg>
</body></html>
